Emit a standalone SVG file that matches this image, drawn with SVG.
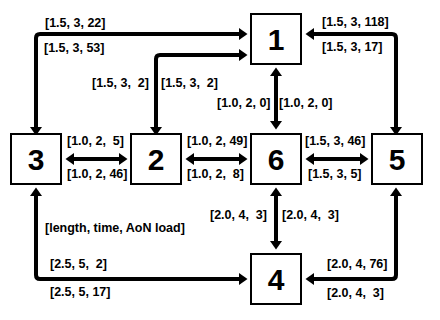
<svg xmlns="http://www.w3.org/2000/svg" width="440" height="320" viewBox="0 0 440 320">
<style>
.box{fill:#fff;stroke:#000;stroke-width:2}
.num{font-family:"Liberation Sans",Arial,sans-serif;font-weight:bold;font-size:30px;text-anchor:middle;fill:#000}
.lbl{font-family:"Liberation Sans",Arial,sans-serif;font-weight:bold;font-size:12.5px;fill:#000;white-space:pre}
.c{fill:none;stroke:#000;stroke-width:4;marker-start:url(#ah);marker-end:url(#ah)}
</style>
<defs>
<marker id="ah" markerUnits="userSpaceOnUse" markerWidth="9" markerHeight="13" viewBox="0 0 9 13" refX="4" refY="6.5" orient="auto-start-reverse">
<path d="M0,0.5 L8.5,6.5 L0,12.5 z" fill="#000"/>
</marker>
</defs>
<rect width="440" height="320" fill="#fff"/>
<g id="connectors">
<path class="c" d="M36,131 V38 Q36,34 40,34 H243"/>
<path class="c" d="M156,131 V59 Q156,55 160,55 H243"/>
<path class="c" d="M276,72 V125"/>
<path class="c" d="M310,34 H392 Q396,34 396,38 V131"/>
<path class="c" d="M70,159 H123"/>
<path class="c" d="M190,159 H243"/>
<path class="c" d="M310,159 H364"/>
<path class="c" d="M276,192 V245"/>
<path class="c" d="M36,192 V275 Q36,279 40,279 H243"/>
<path class="c" d="M396,192 V275 Q396,279 392,279 H310"/>
</g>
<g id="node1"><rect class="box" x="251" y="14" width="50" height="50"/><text class="num" x="276" y="50">1</text></g>
<g id="node2"><rect class="box" x="131" y="134" width="50" height="50"/><text class="num" x="156" y="170">2</text></g>
<g id="node3"><rect class="box" x="11" y="134" width="50" height="50"/><text class="num" x="36" y="170">3</text></g>
<g id="node4"><rect class="box" x="251" y="254" width="50" height="50"/><text class="num" x="276" y="290">4</text></g>
<g id="node5"><rect class="box" x="372" y="134" width="50" height="50"/><text class="num" x="397" y="170">5</text></g>
<g id="node6"><rect class="box" x="251" y="134" width="50" height="50"/><text class="num" x="276" y="170">6</text></g>
<g id="labels">
<text class="lbl" x="45" y="27">[1.5, 3, 22]</text>
<text class="lbl" x="44" y="52">[1.5, 3, 53]</text>
<text class="lbl" x="92" y="87">[1.5, 3,  2]</text>
<text class="lbl" x="161" y="87">[1.5, 3,  2]</text>
<text class="lbl" x="322" y="26">[1.5, 3, 118]</text>
<text class="lbl" x="322" y="51">[1.5, 3, 17]</text>
<text class="lbl" x="217" y="107">[1.0, 2, 0]</text>
<text class="lbl" x="279" y="107">[1.0, 2, 0]</text>
<text class="lbl" x="67" y="145">[1.0, 2,  5]</text>
<text class="lbl" x="67" y="178">[1.0, 2, 46]</text>
<text class="lbl" x="187" y="145">[1.0, 2, 49]</text>
<text class="lbl" x="187" y="178">[1.0, 2,  8]</text>
<text class="lbl" x="305" y="145">[1.5, 3, 46]</text>
<text class="lbl" x="308" y="178">[1.5, 3, 5]</text>
<text class="lbl" x="210" y="219">[2.0, 4,  3]</text>
<text class="lbl" x="282" y="219">[2.0, 4,  3]</text>
<text class="lbl" x="45" y="232">[length, time, AoN load]</text>
<text class="lbl" x="50" y="268">[2.5, 5,  2]</text>
<text class="lbl" x="50" y="296">[2.5, 5, 17]</text>
<text class="lbl" x="327" y="268">[2.0, 4, 76]</text>
<text class="lbl" x="327" y="297">[2.0, 4,  3]</text>
</g>
</svg>
